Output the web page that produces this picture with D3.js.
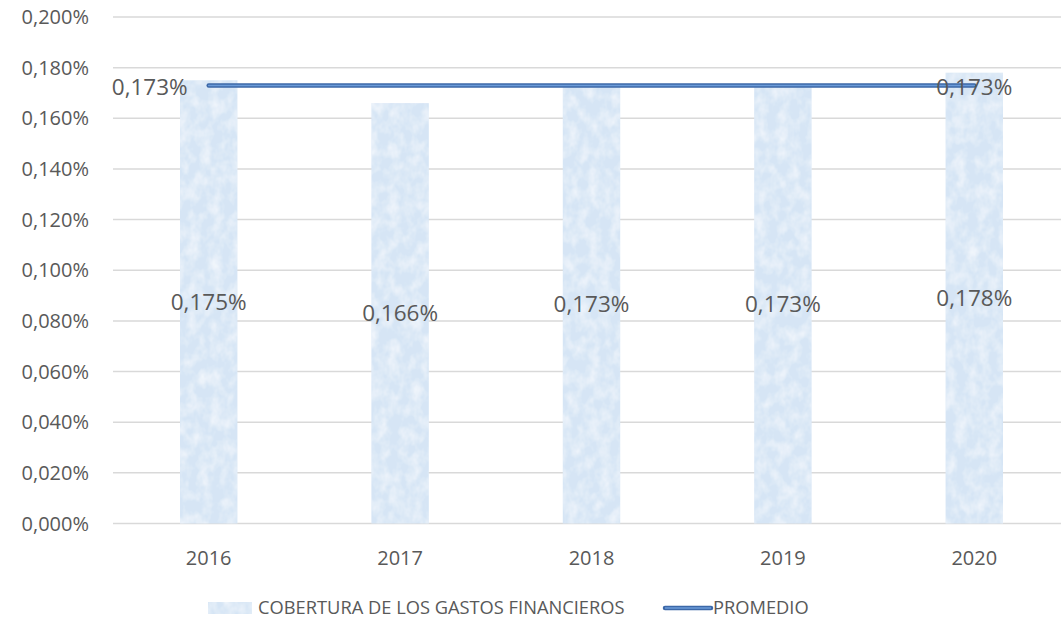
<!DOCTYPE html>
<html>
<head>
<meta charset="utf-8">
<script src="https://cdn.jsdelivr.net/npm/d3@7"></script>
<style>
  body { margin: 0; background: #fff; }
  text { font-family: "Open Sans", sans-serif; fill: #595959; }
</style>
</head>
<body>
<div id="chart"></div>
<script>
const width = 1061
const height = 620
const margin = { top: 17, bottom: 96.5, left: 113, right: -9 }

const years = ["2016", "2017", "2018", "2019", "2020"]
const cobertura = [0.00175, 0.00166, 0.00173, 0.00173, 0.00178]
const promedio = [0.00173, 0.00173, 0.00173, 0.00173, 0.00173]
const yTicks = [0, 0.0002, 0.0004, 0.0006, 0.0008, 0.0010, 0.0012, 0.0014, 0.0016, 0.0018, 0.0020]
const legendLabels = ["COBERTURA DE LOS GASTOS FINANCIEROS", "PROMEDIO"]

const locale = d3.formatLocale({ decimal: ",", thousands: ".", grouping: [3], currency: ["", "€"] })
const pct = locale.format(".3%")

const svg = d3.select("div#chart").append("svg").attr("width", width).attr("height", height)

// textured light blue fill for the bars
const defs = svg.append("defs")
const filter = defs.append("filter").attr("id", "marble")
    .attr("x", 0).attr("y", 0).attr("width", 1).attr("height", 1)
filter.append("feTurbulence").attr("type", "fractalNoise")
    .attr("baseFrequency", "0.09 0.07").attr("numOctaves", 3).attr("seed", 4).attr("result", "noise")
filter.append("feColorMatrix").attr("in", "noise").attr("type", "matrix")
    .attr("values", "0 0 0 0 1  0 0 0 0 1  0 0 0 0 1  1.1 0 0 0 -0.4")
    .attr("result", "light")
filter.append("feComposite").attr("in", "light").attr("in2", "SourceGraphic").attr("operator", "in").attr("result", "lightIn")
const merge = filter.append("feMerge")
merge.append("feMergeNode").attr("in", "SourceGraphic")
merge.append("feMergeNode").attr("in", "lightIn")

const x = d3.scaleBand().domain(years)
    .range([margin.left, width - margin.right])
    .paddingInner(0.7).paddingOuter(0.35)
const y = d3.scaleLinear().domain([0, 0.002]).range([height - margin.bottom, margin.top])

// grid
svg.append("g").attr("class", "grid")
    .selectAll("line").data(yTicks).join("line")
    .attr("x1", margin.left).attr("x2", width)
    .attr("y1", d => y(d)).attr("y2", d => y(d))
    .attr("stroke", "#d9d9d9").attr("stroke-width", 1.5)

// y labels
svg.append("g").selectAll("text").data(yTicks).join("text")
    .attr("x", 89).attr("y", d => y(d)).attr("dy", "0.35em")
    .attr("text-anchor", "end").attr("font-size", 20)
    .text(d => pct(d))

// x labels
svg.append("g").selectAll("text").data(years).join("text")
    .attr("x", d => x(d) + x.bandwidth() / 2).attr("y", 558).attr("dy", "0.35em")
    .attr("text-anchor", "middle").attr("font-size", 20)
    .text(d => d)

// bars
svg.append("g").selectAll("rect").data(years).join("rect")
    .attr("x", d => x(d)).attr("width", x.bandwidth())
    .attr("y", (d, i) => y(cobertura[i]))
    .attr("height", (d, i) => y(0) - y(cobertura[i]))
    .attr("fill", "#d6e5f5").attr("filter", "url(#marble)")

// bar labels
svg.append("g").selectAll("text").data(years).join("text")
    .attr("x", d => x(d) + x.bandwidth() / 2)
    .attr("y", (d, i) => (y(cobertura[i]) + y(0)) / 2).attr("dy", "0.35em")
    .attr("text-anchor", "middle").attr("font-size", 22.5).attr("fill", "#404040")
    .text((d, i) => pct(cobertura[i]))

// promedio line
const line = d3.line()
    .x((d, i) => x(years[i]) + x.bandwidth() / 2)
    .y(d => y(d))
svg.append("path").datum(promedio).attr("d", line)
    .attr("fill", "none").attr("stroke", "#3c68a8").attr("stroke-width", 4.5).attr("stroke-linecap", "round")
svg.append("path").datum(promedio).attr("d", line)
    .attr("fill", "none").attr("stroke", "#6b9bd8").attr("stroke-width", 1.5).attr("stroke-linecap", "round")

// promedio labels: first and last
const xc = i => x(years[i]) + x.bandwidth() / 2
svg.append("text").attr("x", xc(0) - 21).attr("y", y(promedio[0]) + 2).attr("dy", "0.35em")
    .attr("text-anchor", "end").attr("font-size", 22.5).attr("fill", "#404040")
    .text(pct(promedio[0]))
svg.append("text").attr("x", xc(4)).attr("y", y(promedio[4]) + 2).attr("dy", "0.35em")
    .attr("text-anchor", "middle").attr("font-size", 22.5).attr("fill", "#404040")
    .text(pct(promedio[4]))

// legend
const legend = svg.append("g").attr("class", "legend")
legend.append("rect").attr("x", 208).attr("y", 602).attr("width", 44).attr("height", 12)
    .attr("fill", "#d6e5f5").attr("filter", "url(#marble)")
legend.append("text").attr("x", 258).attr("y", 608).attr("dy", "0.35em")
    .attr("font-size", 18.3).text(legendLabels[0])
legend.append("line").attr("x1", 665).attr("x2", 711).attr("y1", 608).attr("y2", 608)
    .attr("stroke", "#3c68a8").attr("stroke-width", 4.5).attr("stroke-linecap", "round")
legend.append("line").attr("x1", 665).attr("x2", 711).attr("y1", 608).attr("y2", 608)
    .attr("stroke", "#6b9bd8").attr("stroke-width", 1.5)
legend.append("text").attr("x", 713).attr("y", 608).attr("dy", "0.35em")
    .attr("font-size", 18.3).text(legendLabels[1])
</script>
</body>
</html>
